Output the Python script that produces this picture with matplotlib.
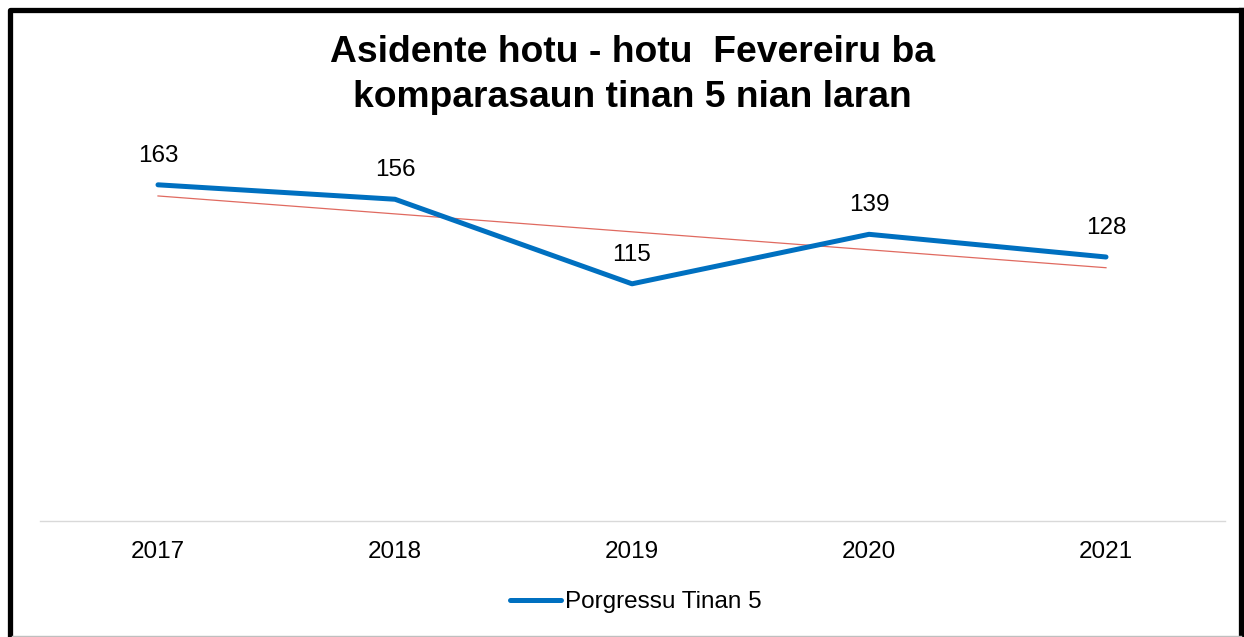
import numpy as np
import matplotlib.pyplot as plt
from matplotlib.lines import Line2D

# Data
years = ['2017', '2018', '2019', '2020', '2021']
accidents = [163, 156, 115, 139, 128]
title = 'Asidente hotu - hotu  Fevereiru ba\nkomparasaun tinan 5 nian laran'
legend_label = 'Porgressu Tinan 5'

plt.rcParams['font.family'] = ['Liberation Sans', 'DejaVu Sans']

W, H = 1244, 637
fig = plt.figure(figsize=(W / 100, H / 100), dpi=100)

# Plot area in pixel coordinates (left, right, bottom, top)
x0, x1, yb, yt = 39.5, 1224.5, 521, 140
ax = fig.add_axes([x0 / W, 1 - yb / H, (x1 - x0) / W, (yb - yt) / H])

x = np.arange(len(years))
ax.plot(x, accidents, color='#0070C0', linewidth=3.6, solid_capstyle='round',
        solid_joinstyle='round', label=legend_label, zorder=3)

# Linear trend line
coef = np.polyfit(x, accidents, 1)
ax.plot(x, np.polyval(coef, x), color='#E06A60', linewidth=0.9, zorder=2)

for xi, v in zip(x, accidents):
    ax.annotate(str(v), (xi, v), xytext=(0, 13), textcoords='offset points',
                ha='center', va='bottom', fontsize=17.5, color='#000000')

ax.set_xlim(-0.5, len(years) - 0.5)
ax.set_ylim(0, (yb - yt) / 2.0625)
ax.set_xticks(x)
ax.set_xticklabels(years, fontsize=17.5)
ax.set_yticks([])
ax.tick_params(axis='x', length=0, pad=14.5)
for s in ['top', 'right', 'left']:
    ax.spines[s].set_visible(False)
ax.spines['bottom'].set_color('#D9D9D9')
ax.spines['bottom'].set_linewidth(1.0)

fig.text(632 / W, 1 - 75 / H, title, ha='center', va='center', fontsize=26.8,
         fontweight='bold', linespacing=1.38)

leg = fig.legend(loc='center', bbox_to_anchor=(636 / W, 1 - 602 / H), frameon=False,
                 fontsize=17.5, handlelength=2.1, handletextpad=0.15)

# Frame around the chart
def px_line(xs, ys, color, lw):
    fig.add_artist(Line2D([v / W for v in xs], [1 - v / H for v in ys],
                          color=color, linewidth=lw, solid_capstyle='projecting'))

px_line([10, 10, 1241], [637, 9.5, 9.5], '#000000', 3.8)
px_line([1241, 1241], [9.5, 637], '#000000', 3.8)
px_line([12, 1241], [635.5, 635.5], '#BFBFBF', 1.0)

fig.savefig('out.png', dpi=100)
